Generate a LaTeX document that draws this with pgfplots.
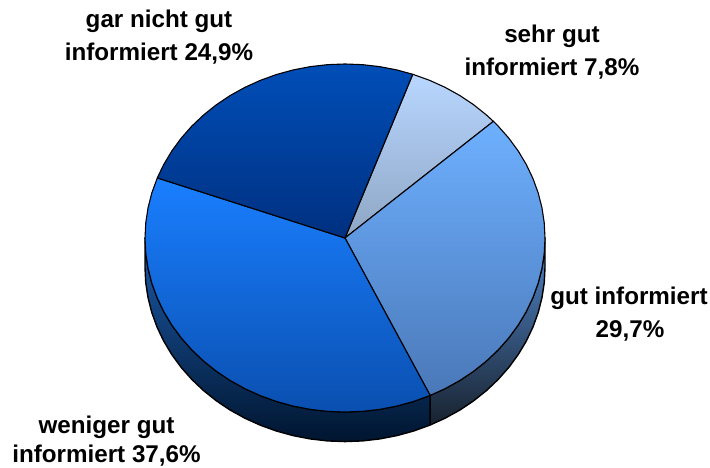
\documentclass[border=0pt]{standalone}
\usepackage{fontspec}
\setmainfont{Liberation Sans}
\usepackage{pgfplots}
\pgfplotsset{compat=1.18}
\definecolor{aT}{HTML}{B8D6FF}\definecolor{aB}{HTML}{8EA6C4}
\definecolor{bT}{HTML}{6EB0FF}\definecolor{bB}{HTML}{4A78B8}
\definecolor{cT}{HTML}{1A7FFF}\definecolor{cB}{HTML}{0A4FB0}
\definecolor{dT}{HTML}{004EB8}\definecolor{dB}{HTML}{003080}
\definecolor{wrT}{HTML}{5288CC}\definecolor{wrB}{HTML}{18222F}
\definecolor{wlT}{HTML}{1C5CAC}\definecolor{wlB}{HTML}{00152F}
\tikzset{lbl/.style={font=\bfseries\fontsize{24.2}{28}\selectfont,text=black,inner sep=0pt,anchor=base}}
\begin{document}
\begin{tikzpicture}
\useasboundingbox (0,0) rectangle (710pt,468pt);
\begin{axis}[
  at={(0,0)},anchor=south west,
  scale only axis,width=710pt,height=468pt,
  xmin=-1.725,xmax=1.825,ymin=-1.3218,ymax=1.3678,
  axis lines=none,clip=false,
]
% side wall of "gut informiert" (29.7 %)
\addplot[draw=black,line width=1.4pt,line join=round,top color=wrT,bottom color=wrB] coordinates {
 (1,0)(.9962,-.0872)(.9848,-.1736)(.9659,-.2588)(.9397,-.342)(.9063,-.4226)(.866,-.5)(.8192,-.5736)(.766,-.6428)(.7071,-.7071)(.6428,-.766)(.5736,-.8192)(.5,-.866)(.4258,-.9048)
 (.4258,-1.0748)(.5,-1.036)(.5736,-.9892)(.6428,-.936)(.7071,-.8771)(.766,-.8128)(.8192,-.7436)(.866,-.67)(.9063,-.5926)(.9397,-.512)(.9659,-.4288)(.9848,-.3436)(.9962,-.2572)(1,-.17)} -- cycle;
% side wall of "weniger gut" (37.6 %)
\addplot[draw=black,line width=1.4pt,line join=round,top color=wlT,bottom color=wlB] coordinates {
 (.4258,-.9048)(.342,-.9397)(.2588,-.9659)(.1736,-.9848)(.0872,-.9962)(0,-1)(-.0872,-.9962)(-.1736,-.9848)(-.2588,-.9659)(-.342,-.9397)(-.4226,-.9063)(-.5,-.866)(-.5736,-.8192)(-.6428,-.766)(-.7071,-.7071)(-.766,-.6428)(-.8192,-.5736)(-.866,-.5)(-.9063,-.4226)(-.9397,-.342)(-.9659,-.2588)(-.9848,-.1736)(-.9962,-.0872)(-1,0)
 (-1,-.17)(-.9962,-.2572)(-.9848,-.3436)(-.9659,-.4288)(-.9397,-.512)(-.9063,-.5926)(-.866,-.67)(-.8192,-.7436)(-.766,-.8128)(-.7071,-.8771)(-.6428,-.936)(-.5736,-.9892)(-.5,-1.036)(-.4226,-1.0763)(-.342,-1.1097)(-.2588,-1.1359)(-.1736,-1.1548)(-.0872,-1.1662)(0,-1.17)(.0872,-1.1662)(.1736,-1.1548)(.2588,-1.1359)(.342,-1.1097)(.4258,-1.0748)} -- cycle;
% sehr gut informiert 7.8 %: 42.1 to 70.2
\addplot[data cs=polar,draw=black,line width=1.1pt,line join=round,top color=aT,bottom color=aB] coordinates {
 (0,0)(42.1,1)(45,1)(50,1)(55,1)(60,1)(65,1)(70.2,1)} -- cycle;
% gut informiert 29.7 %: -64.8 to 42.1
\addplot[data cs=polar,draw=black,line width=1.1pt,line join=round,top color=bT,bottom color=bB] coordinates {
 (0,0)(-64.8,1)(-60,1)(-55,1)(-50,1)(-45,1)(-40,1)(-35,1)(-30,1)(-25,1)(-20,1)(-15,1)(-10,1)(-5,1)(0,1)(5,1)(10,1)(15,1)(20,1)(25,1)(30,1)(35,1)(40,1)(42.1,1)} -- cycle;
% weniger gut informiert 37.6 %: 159.8 to 295.2
\addplot[data cs=polar,draw=black,line width=1.1pt,line join=round,top color=cT,bottom color=cB] coordinates {
 (0,0)(159.8,1)(165,1)(170,1)(175,1)(180,1)(185,1)(190,1)(195,1)(200,1)(205,1)(210,1)(215,1)(220,1)(225,1)(230,1)(235,1)(240,1)(245,1)(250,1)(255,1)(260,1)(265,1)(270,1)(275,1)(280,1)(285,1)(290,1)(295.2,1)} -- cycle;
% gar nicht gut informiert 24.9 %: 70.2 to 159.8
\addplot[data cs=polar,draw=black,line width=1.1pt,line join=round,top color=dT,bottom color=dB] coordinates {
 (0,0)(70.2,1)(75,1)(80,1)(85,1)(90,1)(95,1)(100,1)(105,1)(110,1)(115,1)(120,1)(125,1)(130,1)(135,1)(140,1)(145,1)(150,1)(155,1)(159.8,1)} -- cycle;
% labels
\node[lbl] at (axis cs:-0.93,1.2069) {gar nicht gut};
\node[lbl] at (axis cs:-0.93,1.0172) {informiert 24,9\%};
\node[lbl] at (axis cs:1.035,1.1207) {sehr gut};
\node[lbl] at (axis cs:1.035,0.931) {informiert 7,8\%};
\node[lbl] at (axis cs:1.42,-0.385) {gut informiert};
\node[lbl] at (axis cs:1.425,-0.569) {29,7\%};
\node[lbl] at (axis cs:-1.1925,-1.1207) {weniger gut};
\node[lbl] at (axis cs:-1.1925,-1.293) {informiert 37,6\%};
\end{axis}
\end{tikzpicture}
\end{document}
